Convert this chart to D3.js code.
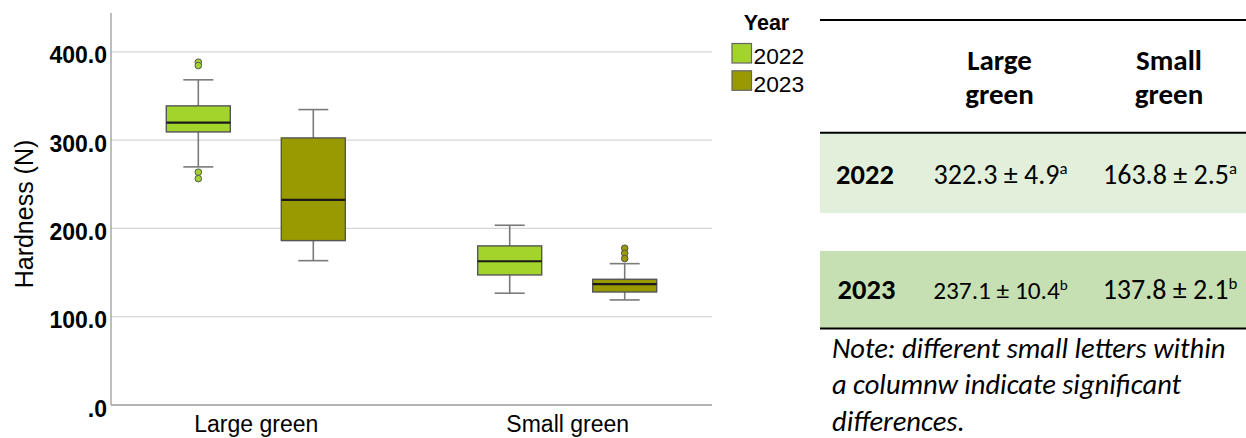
<!DOCTYPE html>
<html><head><meta charset="utf-8">
<script src="https://cdn.jsdelivr.net/npm/d3@7"></script>
<style>body{margin:0;background:#fff}svg{display:block}</style>
</head><body>
<svg id="c" width="1246" height="438"></svg>
<script>
// ---- data ----
const categories = ["Large green", "Small green"];
const years = ["2022", "2023"];
const yTicks = [0, 100, 200, 300, 400];
// five-number summaries: [lowWhisker, q1, median, q3, highWhisker]
const large2022 = [269.7, 309.3, 319.9, 338.8, 368.3];
const large2023 = [163.5, 186.2, 232.3, 302.5, 334.6];
const small2022 = [126.6, 147.3, 162.8, 180.2, 203.6];
const small2023 = [119.0, 128.0, 136.8, 142.4, 160.1];
const outliersLarge2022 = [388.3, 384.5, 263.7, 256.4];
const outliersLarge2023 = [];
const outliersSmall2022 = [];
const outliersSmall2023 = [177.6, 171.9, 165.8];
const tableCols = ["Large green", "Small green"];
const tableRowYears = ["2022", "2023"];
const tableMeans = [["322.3 ± 4.9", "163.8 ± 2.5"], ["237.1 ± 10.4", "137.8 ± 2.1"]];
const tableLetters = [["a", "a"], ["b", "b"]];
const noteLines = ["Note: different small letters within", "a columnw indicate significant", "differences."];

const colors = {"2022": "#a2d42c", "2023": "#999900"};
const boxes = [
  {cat: categories[0], year: years[0], s: large2022, out: outliersLarge2022},
  {cat: categories[0], year: years[1], s: large2023, out: outliersLarge2023},
  {cat: categories[1], year: years[0], s: small2022, out: outliersSmall2022},
  {cat: categories[1], year: years[1], s: small2023, out: outliersSmall2023}
];

const svg = d3.select("#c");
const L = 111, R = 712, T = 13, B = 405;
const y = d3.scaleLinear().domain([0, 444]).range([B, T]);
const x = d3.scalePoint().domain(categories).range([L, R]).padding(0.465);
const xo = d3.scalePoint().domain(years).range([-57.5, 57.5]);
const boxW = 64, capW = 30;
const chartFont = "'Liberation Sans', Arial, sans-serif";

// gridlines
svg.append("g").selectAll("line").data(yTicks.filter(d => d > 0)).join("line")
  .attr("x1", L).attr("x2", R).attr("y1", d => y(d)).attr("y2", d => y(d))
  .attr("stroke", "#d6d6d6").attr("stroke-width", 1.3);

// y axis
const ya = svg.append("g").attr("transform", `translate(${L},0)`)
  .call(d3.axisLeft(y).tickValues(yTicks).tickSize(0).tickPadding(4)
    .tickFormat(d => d === 0 ? ".0" : d3.format(".1f")(d)));
ya.select(".domain").remove();
ya.selectAll("text").attr("font-family", chartFont).attr("font-size", 23).attr("font-weight", "bold")
  .attr("fill", "#000").attr("dy", "0.48em");
svg.append("line").attr("x1", L).attr("x2", L).attr("y1", T).attr("y2", B).attr("stroke", "#9a9a9a").attr("stroke-width", 1.3);

// x axis
const xa = svg.append("g").attr("transform", `translate(0,${B})`)
  .call(d3.axisBottom(x).tickSize(0));
xa.select(".domain").remove();
xa.selectAll("text").attr("font-family", chartFont).attr("font-size", 23).attr("fill", "#000")
  .attr("dy", null).attr("y", 27);
svg.append("line").attr("x1", L).attr("x2", R).attr("y1", B).attr("y2", B).attr("stroke", "#9a9a9a").attr("stroke-width", 1.3);

// y title
svg.append("text").attr("transform", `translate(33,214) rotate(-90)`)
  .attr("text-anchor", "middle").attr("font-family", chartFont).attr("font-size", 25)
  .attr("fill", "#000").text("Hardness (N)");

// boxes
const g = svg.append("g");
boxes.forEach(b => {
  const cx = x(b.cat) + xo(b.year);
  const [lo, q1, med, q3, hi] = b.s;
  const bg = g.append("g");
  const wl = (x1, x2, y1, y2) => bg.append("line").attr("x1", x1).attr("x2", x2).attr("y1", y1).attr("y2", y2)
    .attr("stroke", "#7a7a7a").attr("stroke-width", 1.6);
  wl(cx, cx, y(hi), y(q3));
  wl(cx, cx, y(q1), y(lo));
  wl(cx - capW/2, cx + capW/2, y(hi), y(hi));
  wl(cx - capW/2, cx + capW/2, y(lo), y(lo));
  bg.append("rect").attr("x", cx - boxW/2).attr("width", boxW).attr("y", y(q3)).attr("height", y(q1) - y(q3))
    .attr("fill", colors[b.year]).attr("stroke", "#555").attr("stroke-width", 1.4);
  bg.append("line").attr("x1", cx - boxW/2).attr("x2", cx + boxW/2).attr("y1", y(med)).attr("y2", y(med))
    .attr("stroke", "#1a1a1a").attr("stroke-width", 2.2);
  bg.selectAll("circle").data(b.out).join("circle").attr("cx", cx).attr("cy", d => y(d)).attr("r", 3.3)
    .attr("fill", colors[b.year]).attr("stroke", "#555").attr("stroke-width", 1);
});

// legend
svg.append("text").attr("x", 766.5).attr("y", 30).attr("text-anchor", "middle").attr("font-family", chartFont)
  .attr("font-size", 21.5).attr("font-weight", "bold").text("Year");
years.forEach((yr, i) => {
  svg.append("rect").attr("x", 732).attr("y", 43.5 + i * 27.3).attr("width", 19.5).attr("height", 19.5)
    .attr("fill", colors[yr]).attr("stroke", "#666").attr("stroke-width", 1.2);
  svg.append("text").attr("x", 753.5).attr("y", 64 + i * 27.7).attr("font-family", chartFont)
    .attr("font-size", 22.8).attr("fill", "#000").text(yr);
});

// table
const tf = "Carlito, Lato, 'Open Sans', sans-serif";
const TL = 820, TR = 1246;
svg.append("rect").attr("x", TL).attr("y", 133).attr("width", TR - TL).attr("height", 80).attr("fill", "#e2efda");
svg.append("rect").attr("x", TL).attr("y", 251).attr("width", TR - TL).attr("height", 77.5).attr("fill", "#c6e0b4");
[20, 132.7, 328.5].forEach(yy => svg.append("line").attr("x1", TL).attr("x2", TR).attr("y1", yy).attr("y2", yy)
  .attr("stroke", "#000").attr("stroke-width", 2));
const colX = [999.5, 1169];
tableCols.forEach((c, i) => {
  const w = c.split(" ");
  const t = svg.append("text").attr("text-anchor", "middle").attr("font-family", tf).attr("font-size", 29).attr("font-weight", "bold");
  t.append("tspan").attr("x", colX[i]).attr("y", 70).text(w[0]);
  t.append("tspan").attr("x", colX[i]).attr("y", 104).text(w[1]);
});
const rowY = [184, 299];
tableRowYears.forEach((yr, r) => {
  svg.append("text").attr("x", 865 + r * 1.5).attr("y", rowY[r]).attr("text-anchor", "middle").attr("font-family", tf)
    .attr("font-size", 28.5).attr("font-weight", "bold").text(yr);
  tableMeans[r].forEach((m, c) => {
    const fs = (r === 1 && c === 0) ? 25.3 : 28;
    const t = svg.append("text").attr("x", colX[c] + 1).attr("y", rowY[r]).attr("text-anchor", "middle")
      .attr("font-family", tf).attr("font-size", fs);
    t.append("tspan").text(m);
    t.append("tspan").attr("dy", -fs * 0.36).attr("font-size", fs * 0.6).text(tableLetters[r][c]);
  });
});
noteLines.forEach((ln, i) => {
  svg.append("text").attr("x", 832).attr("y", 357.5 + i * 36.5).attr("font-family", tf).attr("font-style", "italic")
    .attr("font-size", 28.5).text(ln);
});
</script>
</body></html>
